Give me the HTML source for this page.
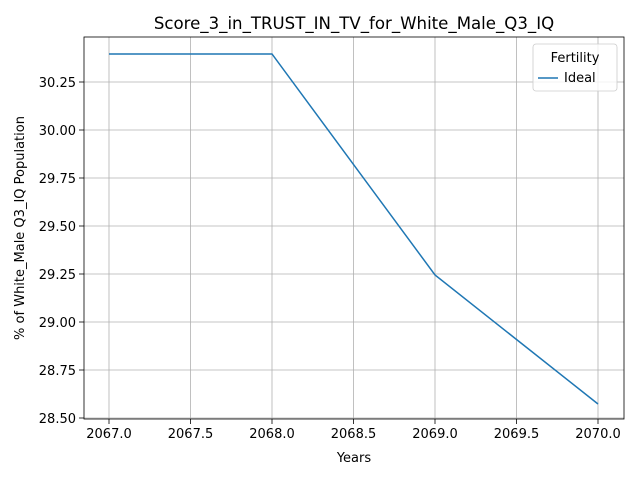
<!DOCTYPE html>
<html><head><meta charset="utf-8"><style>
body{margin:0;background:#fff;font-family:"Liberation Sans","DejaVu Sans",sans-serif;}
svg text{font-family:"DejaVu Sans","Liberation Sans",sans-serif;}
</style></head><body>
<svg id="chart" width="640" height="480" xmlns="http://www.w3.org/2000/svg"></svg>
<script>
const years = [2067, 2068, 2069, 2070];
const idealValues = [30.396, 30.396, 29.245, 28.573];
const xTicks = [2067.0, 2067.5, 2068.0, 2068.5, 2069.0, 2069.5, 2070.0];
const yTicks = [28.50, 28.75, 29.00, 29.25, 29.50, 29.75, 30.00, 30.25];

const svg = document.getElementById('chart');
const NS = 'http://www.w3.org/2000/svg';
const L = 84, R = 624, T = 37, B = 419;
function xs(v){ return 109 + (v - 2067) * (598 - 109) / 3; }
function ys(v){ return 418 - (v - 28.5) * (418 - 82) / 1.75; }
function mk(tag, attrs, parent){
  const e = document.createElementNS(NS, tag);
  for (const k in attrs) e.setAttribute(k, attrs[k]);
  (parent || svg).appendChild(e);
  return e;
}
const grid = mk('g', {});


xTicks.forEach(t => {
  const x = xs(t);
  mk('line', {x1:x, x2:x, y1:T, y2:B, stroke:'#b0b0b0', 'stroke-width':0.8}, grid);
  mk('line', {x1:x, x2:x, y1:B, y2:B+5, stroke:'#000', 'stroke-width':0.8}, grid);
  const tx = mk('text', {x:x, y:B+19, 'font-size':13, 'text-anchor':'middle', fill:'#000'});
  
  
  tx.textContent = t.toFixed(1);
});
yTicks.forEach(t => {
  const y = ys(t);
  mk('line', {x1:L, x2:R, y1:y, y2:y, stroke:'#b0b0b0', 'stroke-width':0.8}, grid);
  mk('line', {x1:L-5, x2:L, y1:y, y2:y, stroke:'#000', 'stroke-width':0.8}, grid);
  const tx = mk('text', {x:L-8, y:y+5, 'font-size':13, 'text-anchor':'end', fill:'#000'});
  
  
  tx.textContent = t.toFixed(2);
});
const line = mk('polyline', {points: years.map((y,i)=>xs(y)+','+ys(idealValues[i])).join(' '), fill:'none', stroke:'#1f77b4', 'stroke-width':1.5});


const frame = mk('rect', {x:L, y:T, width:R-L, height:B-T, fill:'none', stroke:'#000', 'stroke-width':0.8});


const title = mk('text', {x:354, y:29, 'font-size':16.6, 'text-anchor':'middle', fill:'#000'});


title.textContent = 'Score_3_in_TRUST_IN_TV_for_White_Male_Q3_IQ';
const xl = mk('text', {x:354, y:462, 'font-size':13, 'text-anchor':'middle', fill:'#000'});


xl.textContent = 'Years';
const yl = mk('text', {x:24, y:228, 'font-size':13, 'text-anchor':'middle', fill:'#000', transform:'rotate(-90 24 228)'});


yl.textContent = '% of White_Male Q3_IQ Population';
const lg = mk('g', {});


mk('rect', {x:533, y:44, width:84, height:47, rx:3, fill:'#fff', 'fill-opacity':0.8, stroke:'#ccc', 'stroke-width':0.8}, lg);
const lt = mk('text', {x:575, y:62, 'font-size':13, 'text-anchor':'middle', fill:'#000'}, lg);
lt.textContent = 'Fertility';
mk('line', {x1:538, x2:558, y1:78, y2:78, stroke:'#1f77b4', 'stroke-width':1.5}, lg);
const le = mk('text', {x:564, y:82, 'font-size':13, fill:'#000'}, lg);


le.textContent = 'Ideal';
</script>
</body></html>
